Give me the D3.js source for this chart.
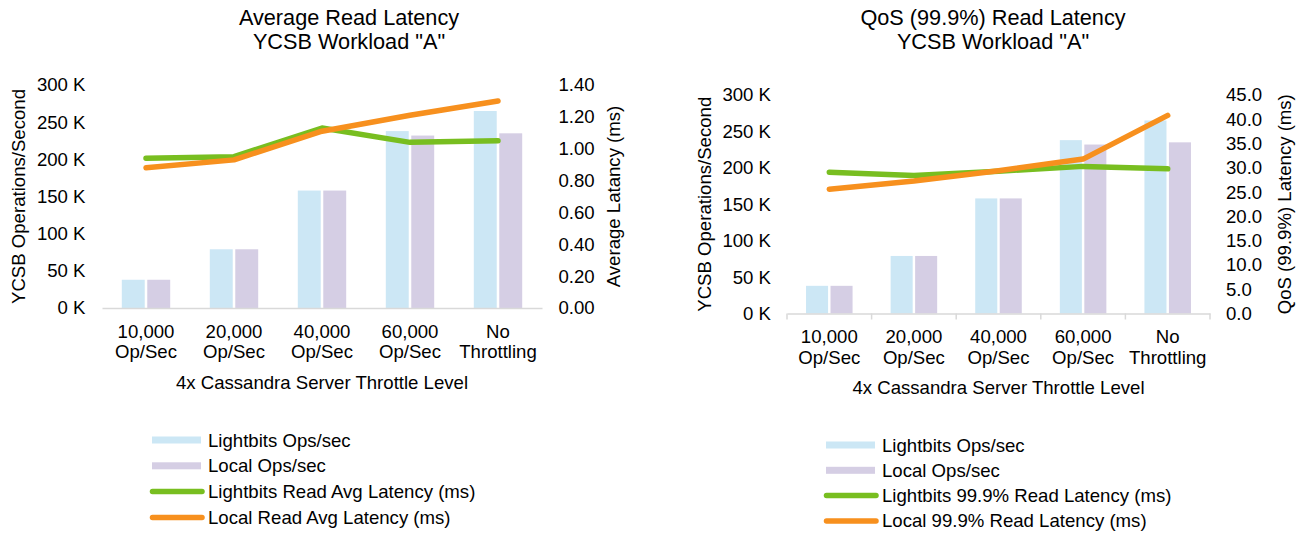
<!DOCTYPE html>
<html>
<head>
<meta charset="utf-8">
<script src="https://cdn.jsdelivr.net/npm/d3@7"></script>
<style>
  html, body { margin: 0; padding: 0; background: #fff; }
  svg { display: block; }
  text { font-family: "Liberation Sans", Arial, sans-serif; fill: #000; }
</style>
</head>
<body>
<svg id="chart" width="1299" height="533"></svg>
<script>
// Throttle levels on the x axis (two text lines each)
const categories = ["10,000 Op/Sec", "20,000 Op/Sec", "40,000 Op/Sec", "60,000 Op/Sec", "No Throttling"];
const categoryLines = [["10,000", "Op/Sec"], ["20,000", "Op/Sec"], ["40,000", "Op/Sec"], ["60,000", "Op/Sec"], ["No", "Throttling"]];

// Throughput, thousands of ops/sec
const lightbitsOps = [38, 79, 158, 238, 265];
const localOps = [38, 79, 158, 232, 235];

// Average read latency (ms)
const lightbitsAvgLatency = [0.94, 0.95, 1.13, 1.04, 1.05];
const localAvgLatency = [0.88, 0.93, 1.11, 1.21, 1.30];

// 99.9th percentile read latency (ms)
const lightbitsQosLatency = [29.1, 28.4, 29.3, 30.3, 29.8];
const localQosLatency = [25.6, 27.3, 29.4, 31.8, 40.8];

// Axis ticks
const opsTicks = [0, 50, 100, 150, 200, 250, 300];
const avgTicks = [0, 0.2, 0.4, 0.6, 0.8, 1.0, 1.2, 1.4];
const qosTicks = [0, 5, 10, 15, 20, 25, 30, 35, 40, 45];

const COLORS = {
  lightbitsBar: "#cce7f5",
  localBar: "#d5cee4",
  lightbitsLine: "#78be20",
  localLine: "#f7901e",
  axis: "#d9d9d9"
};

const FONT = "18.6px";
const svg = d3.select("#chart");

function drawChart(cfg) {
  const g = svg.append("g");

  const x = d3.scaleBand().domain(categories).range([cfg.x0, cfg.x1]).padding(0);
  const groupW = x.bandwidth() * 0.55;
  const xs = d3.scaleBand().domain(["lightbits", "local"]).range([-groupW / 2, groupW / 2]).paddingInner(0.1).paddingOuter(0);

  const yL = d3.scaleLinear().domain([0, 300]).range([cfg.yBase, cfg.yTop]);
  const yR = d3.scaleLinear().domain([0, cfg.rightMax]).range([cfg.yBase, cfg.yTop]);

  // titles
  const title = g.append("text").attr("text-anchor", "middle").style("font-size", "21.7px");
  title.append("tspan").attr("x", cfg.titleX).attr("y", 25).text(cfg.title);
  title.append("tspan").attr("x", cfg.titleX).attr("y", 49).text('YCSB Workload "A"');

  // bars
  const rows = categories.map((c, i) => ({ c, lightbits: lightbitsOps[i], local: localOps[i] }));
  rows.forEach(r => {
    ["lightbits", "local"].forEach(k => {
      g.append("rect")
        .attr("x", x(r.c) + x.bandwidth() / 2 + xs(k))
        .attr("width", xs.bandwidth())
        .attr("y", yL(r[k]))
        .attr("height", yL(0) - yL(r[k]))
        .attr("fill", k === "lightbits" ? COLORS.lightbitsBar : COLORS.localBar);
    });
  });

  // x axis line
  const xAxis = d3.axisBottom(x).tickSize(0).tickFormat("");
  const xa = g.append("g").attr("transform", `translate(0,${cfg.yBase})`).call(xAxis);
  xa.select(".domain").attr("stroke", COLORS.axis).attr("stroke-width", 1.5);
  if (cfg.tickMarks) {
    const bounds = categories.map(c => x(c)).concat([cfg.x1]);
    g.selectAll(null).data(bounds).enter().append("line")
      .attr("x1", d => d).attr("x2", d => d)
      .attr("y1", cfg.yBase).attr("y2", cfg.yBase + 6)
      .attr("stroke", COLORS.axis).attr("stroke-width", 1.5);
  }

  // category labels
  categories.forEach((c, i) => {
    const t = g.append("text").attr("text-anchor", "middle").style("font-size", FONT);
    categoryLines[i].forEach((ln, j) => {
      t.append("tspan").attr("x", x(c) + x.bandwidth() / 2)
        .attr("y", cfg.catY + j * cfg.catLineH).attr("dy", "0.35em").text(ln);
    });
  });

  // x axis title
  g.append("text").attr("text-anchor", "middle").style("font-size", FONT)
    .attr("x", (cfg.x0 + cfg.x1) / 2).attr("y", cfg.xTitleY).attr("dy", "0.35em")
    .text("4x Cassandra Server Throttle Level");

  // left axis
  const la = g.append("g").attr("transform", `translate(${cfg.x0},0)`)
    .call(d3.axisLeft(yL).tickValues(opsTicks).tickSize(0).tickPadding(cfg.tickPad).tickFormat(d => d + " K"));
  la.select(".domain").remove();
  la.selectAll("text").style("font-size", FONT).style("font-family", '"Liberation Sans", Arial, sans-serif').attr("fill", "#000");

  // right axis
  const ra = g.append("g").attr("transform", `translate(${cfg.x1},0)`)
    .call(d3.axisRight(yR).tickValues(cfg.rightTicks).tickSize(0).tickPadding(cfg.tickPad).tickFormat(cfg.rightFormat));
  ra.select(".domain").remove();
  ra.selectAll("text").style("font-size", FONT).style("font-family", '"Liberation Sans", Arial, sans-serif').attr("fill", "#000");

  // axis titles
  const midY = (cfg.yTop + cfg.yBase) / 2;
  g.append("text").attr("text-anchor", "middle").style("font-size", FONT)
    .attr("transform", `translate(${cfg.leftTitleX},${midY}) rotate(-90)`).attr("dy", "0.35em")
    .text("YCSB Operations/Second");
  g.append("text").attr("text-anchor", "middle").style("font-size", FONT)
    .attr("transform", `translate(${cfg.rightTitleX},${midY}) rotate(-90)`).attr("dy", "0.35em")
    .text(cfg.rightTitle);

  // latency lines
  const line = d3.line().x((d, i) => x(categories[i]) + x.bandwidth() / 2).y(d => yR(d));
  [[cfg.lightbitsLat, COLORS.lightbitsLine], [cfg.localLat, COLORS.localLine]].forEach(([vals, col]) => {
    g.append("path").datum(vals).attr("d", line)
      .attr("fill", "none").attr("stroke", col).attr("stroke-width", 5.5)
      .attr("stroke-linecap", "round").attr("stroke-linejoin", "round");
  });

  // legend
  const lg = g.append("g");
  cfg.legend.forEach((item, i) => {
    const yy = cfg.legY + i * cfg.legStep;
    if (item.type === "bar") {
      lg.append("rect").attr("x", cfg.legX).attr("y", yy - 3.5).attr("width", 49).attr("height", 7).attr("fill", item.color);
    } else {
      lg.append("line").attr("x1", cfg.legX + 0.5).attr("x2", cfg.legX + 50).attr("y1", yy).attr("y2", yy)
        .attr("stroke", item.color).attr("stroke-width", 5.5).attr("stroke-linecap", "round");
    }
    lg.append("text").attr("x", cfg.legX + 56).attr("y", yy).attr("dy", "0.35em")
      .style("font-size", FONT).text(item.label);
  });
}

drawChart({
  title: "Average Read Latency",
  titleX: 349,
  x0: 102, x1: 542, yTop: 85, yBase: 308,
  rightMax: 1.4, rightTicks: avgTicks, rightFormat: d3.format(".2f"),
  rightTitle: "Average Latancy (ms)",
  lightbitsLat: lightbitsAvgLatency, localLat: localAvgLatency,
  tickMarks: false, tickPad: 16.5,
  catY: 331, catLineH: 20.5, xTitleY: 382,
  leftTitleX: 18, rightTitleX: 613,
  legX: 152, legY: 440, legStep: 25.8,
  legend: [
    { type: "bar", color: COLORS.lightbitsBar, label: "Lightbits Ops/sec" },
    { type: "bar", color: COLORS.localBar, label: "Local Ops/sec" },
    { type: "line", color: COLORS.lightbitsLine, label: "Lightbits Read Avg Latency (ms)" },
    { type: "line", color: COLORS.localLine, label: "Local Read Avg Latency (ms)" }
  ]
});

drawChart({
  title: "QoS (99.9%) Read Latency",
  titleX: 993,
  x0: 787, x1: 1210, yTop: 95, yBase: 313.5,
  rightMax: 45, rightTicks: qosTicks, rightFormat: d3.format(".1f"),
  rightTitle: "QoS (99.9%) Latency (ms)",
  lightbitsLat: lightbitsQosLatency, localLat: localQosLatency,
  tickMarks: true, tickPad: 16,
  catY: 336.5, catLineH: 21, xTitleY: 387,
  leftTitleX: 704, rightTitleX: 1284,
  legX: 826, legY: 445, legStep: 25.3,
  legend: [
    { type: "bar", color: COLORS.lightbitsBar, label: "Lightbits Ops/sec" },
    { type: "bar", color: COLORS.localBar, label: "Local Ops/sec" },
    { type: "line", color: COLORS.lightbitsLine, label: "Lightbits 99.9% Read Latency (ms)" },
    { type: "line", color: COLORS.localLine, label: "Local 99.9% Read Latency (ms)" }
  ]
});
</script>
</body>
</html>
